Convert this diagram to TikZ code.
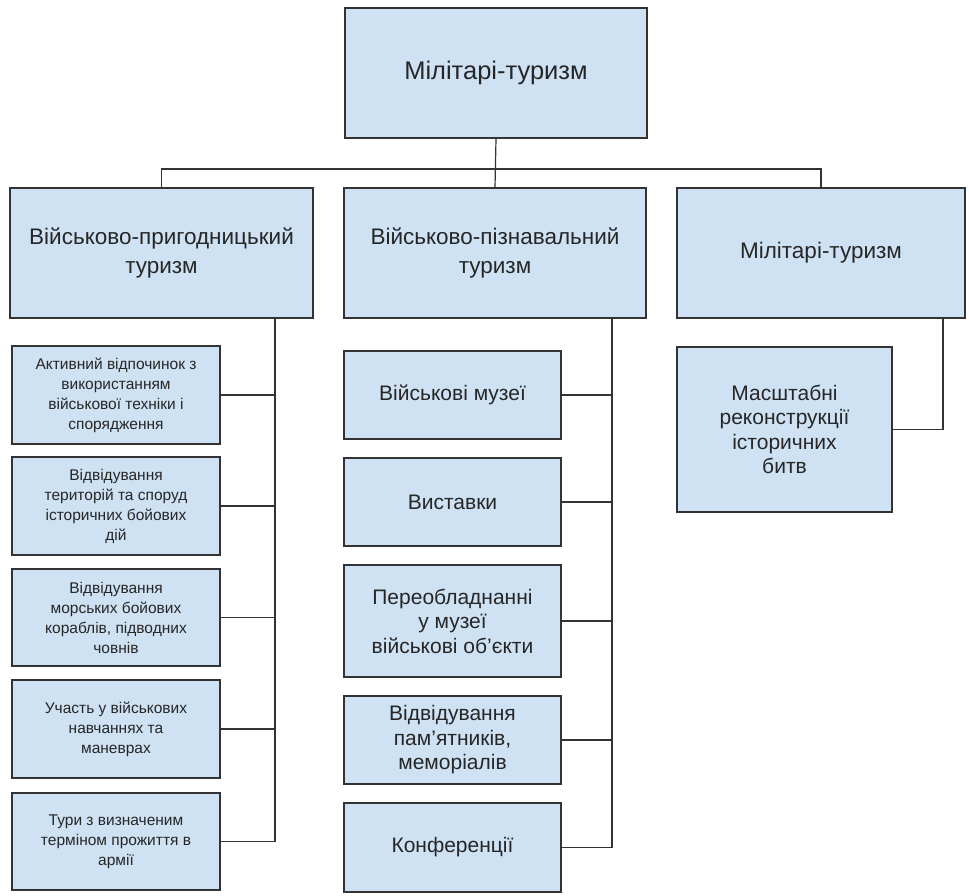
\documentclass[tikz,border=0pt]{standalone}
\usepackage{fontspec}
\setmainfont{Liberation Sans}
\definecolor{boxfill}{HTML}{CFE2F3}
\definecolor{boxline}{HTML}{333333}
\begin{document}
\begin{tikzpicture}[x=1pt,y=-1pt,
  box/.style={draw=boxline,fill=boxfill,line width=1.3pt,align=center,inner sep=2pt,text=black!85},
  conn/.style={draw=boxline,line width=1.2pt},
  fbig/.style={font=\fontsize{25.5}{30}\selectfont},
  fmid/.style={font=\fontsize{22.5}{29}\selectfont},
  fsm/.style={font=\fontsize{15.5}{20}\selectfont},
  fmd/.style={font=\fontsize{21}{24.5}\selectfont}]
\useasboundingbox (0,0) rectangle (969,895);
\fill[white] (0,0) rectangle (969,895);
% top
\node[box,fbig,minimum width=302pt,minimum height=130pt] (top) at (496,73) {Мілітарі-туризм};
% level 2
\node[box,fmid,minimum width=303pt,minimum height=130pt] (l2a) at (161.5,253) {Військово-пригодницький\\туризм};
\node[box,fmid,minimum width=302pt,minimum height=130pt] (l2b) at (495,253) {Військово-пізнавальний\\туризм};
\node[box,fmid,minimum width=288pt,minimum height=130pt] (l2c) at (821,253) {Мілітарі-туризм};
% left column
\node[box,fsm,minimum width=208pt,minimum height=98pt] (a1) at (116,395) {Активний відпочинок з\\використанням\\військової техніки і\\спорядження};
\node[box,fsm,minimum width=208pt,minimum height=98pt] (a2) at (116,506) {Відвідування\\територій та споруд\\історичних бойових\\дій};
\node[box,fsm,minimum width=208pt,minimum height=97pt] (a3) at (116,617.5) {Відвідування\\морських бойових\\кораблів, підводних\\човнів};
\node[box,fsm,minimum width=208pt,minimum height=98pt] (a4) at (116,729) {Участь у військових\\навчаннях та\\маневрах};
\node[box,fsm,minimum width=208pt,minimum height=97pt] (a5) at (116,841.5) {Тури з визначеним\\терміном прожиття в\\армії};
% middle column
\node[box,fmd,minimum width=217pt,minimum height=88pt] (b1) at (452.5,395) {Військові музеї};
\node[box,fmd,minimum width=217pt,minimum height=88pt] (b2) at (452.5,502) {Виставки};
\node[box,fmd,minimum width=217pt,minimum height=112pt] (b3) at (452.5,621) {Переобладнанні\\у музеї\\військові об’єкти};
\node[box,fmd,minimum width=217pt,minimum height=88pt] (b4) at (452.5,740) {Відвідування\\пам'ятників,\\меморіалів};
\node[box,fmd,minimum width=217pt,minimum height=89pt] (b5) at (452.5,847.5) {Конференції};
% right column
\node[box,fmd,minimum width=215pt,minimum height=165pt] (c1) at (784.5,429.5) {Масштабні\\реконструкції\\історичних\\битв};
% bus coordinates
\coordinate (bus) at (0,169);
\coordinate (vl) at (275,0);
\coordinate (vm) at (612,0);
\coordinate (vr) at (943,0);
% connectors top
\draw[conn] (top.south) -- (l2b.north);
\draw[conn] (l2a.north) -- (l2a.north |- bus) -- (l2c.north |- bus) -- (l2c.north);
% left
\draw[conn] (l2a.south -| vl) -- (a5.east -| vl);
\foreach \n in {a1,a2,a3,a4,a5} \draw[conn] (\n.east) -- (\n.east -| vl);
% middle
\draw[conn] (l2b.south -| vm) -- (b5.east -| vm);
\foreach \n in {b1,b2,b3,b4,b5} \draw[conn] (\n.east) -- (\n.east -| vm);
% right
\draw[conn] (l2c.south -| vr) -- (c1.east -| vr) -- (c1.east);
\end{tikzpicture}
\end{document}
